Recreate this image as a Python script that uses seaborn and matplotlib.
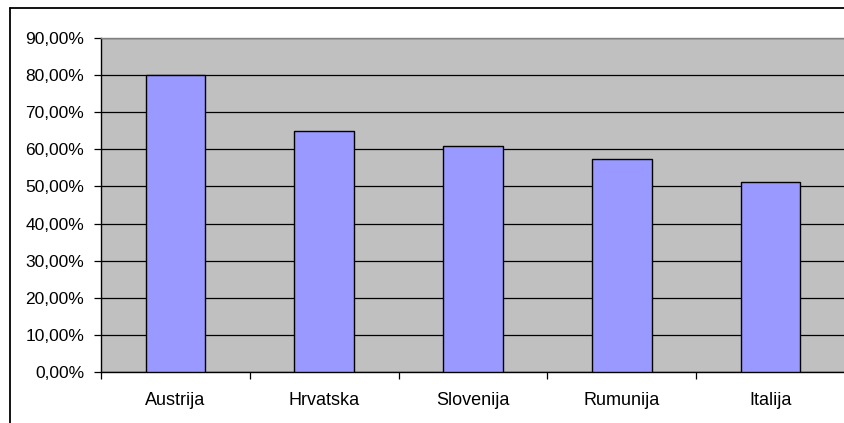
import matplotlib
matplotlib.use("Agg")
import matplotlib.pyplot as plt
import seaborn as sns
import numpy as np
import pandas as pd
from matplotlib.lines import Line2D
from matplotlib.ticker import FixedLocator

categories = ["Austrija", "Hrvatska", "Slovenija", "Rumunija", "Italija"]
values = [0.80, 0.649, 0.610, 0.574, 0.511]
yticks = [0.0, 0.1, 0.2, 0.3, 0.4, 0.5, 0.6, 0.7, 0.8, 0.9]
ytick_labels = ["0,00%", "10,00%", "20,00%", "30,00%", "40,00%", "50,00%",
                "60,00%", "70,00%", "80,00%", "90,00%"]

sns.set_style("white")
plt.rcParams["font.family"] = ["Liberation Sans", "DejaVu Sans"]

W, H = 844, 423
fig = plt.figure(figsize=(W / 100, H / 100), dpi=100)
fig.patch.set_facecolor("white")
ax = fig.add_axes([101 / W, (H - 372) / H, 744 / W, 334 / H])
ax.set_facecolor("#C0C0C0")

df = pd.DataFrame({"cat": categories, "val": values})
sns.barplot(data=df, x="cat", y="val", color="#9999FF", saturation=1,
            edgecolor="black", linewidth=1.0, width=0.4, ax=ax, zorder=3)

ax.set_xlim(-0.5, len(categories) - 0.5)
ax.set_ylim(0, 0.9)
ax.set_yticks(yticks)
ax.set_yticklabels(ytick_labels)
ax.yaxis.grid(True, color="black", linewidth=0.9, zorder=1)
ax.set_axisbelow(True)

ax.set_xlabel("")
ax.set_ylabel("")
ax.tick_params(axis="x", which="major", length=0, pad=14.5, labelsize=13, labelcolor="black")
ax.xaxis.set_minor_locator(FixedLocator(np.arange(-0.5, len(categories), 1.0)))
ax.tick_params(axis="x", which="minor", length=5, width=0.9, color="black", direction="out", bottom=True)
ax.tick_params(axis="y", length=5, width=0.9, color="black", direction="out", pad=7,
               labelsize=12.5, labelcolor="black", left=True)

for s in ["left", "bottom"]:
    ax.spines[s].set_color("black")
    ax.spines[s].set_linewidth(1.0)
ax.spines["top"].set_color("#808080")
ax.spines["top"].set_linewidth(1.0)
ax.spines["right"].set_visible(False)

# outer chart border (top and left visible)
fig.add_artist(Line2D([9.5 / W, 1.0], [1 - 8.5 / H, 1 - 8.5 / H], color="black", linewidth=1.3, transform=fig.transFigure))
fig.add_artist(Line2D([9.5 / W, 9.5 / W], [0, 1 - 8.5 / H], color="black", linewidth=1.3, transform=fig.transFigure))

fig.savefig("out.png", dpi=100)
